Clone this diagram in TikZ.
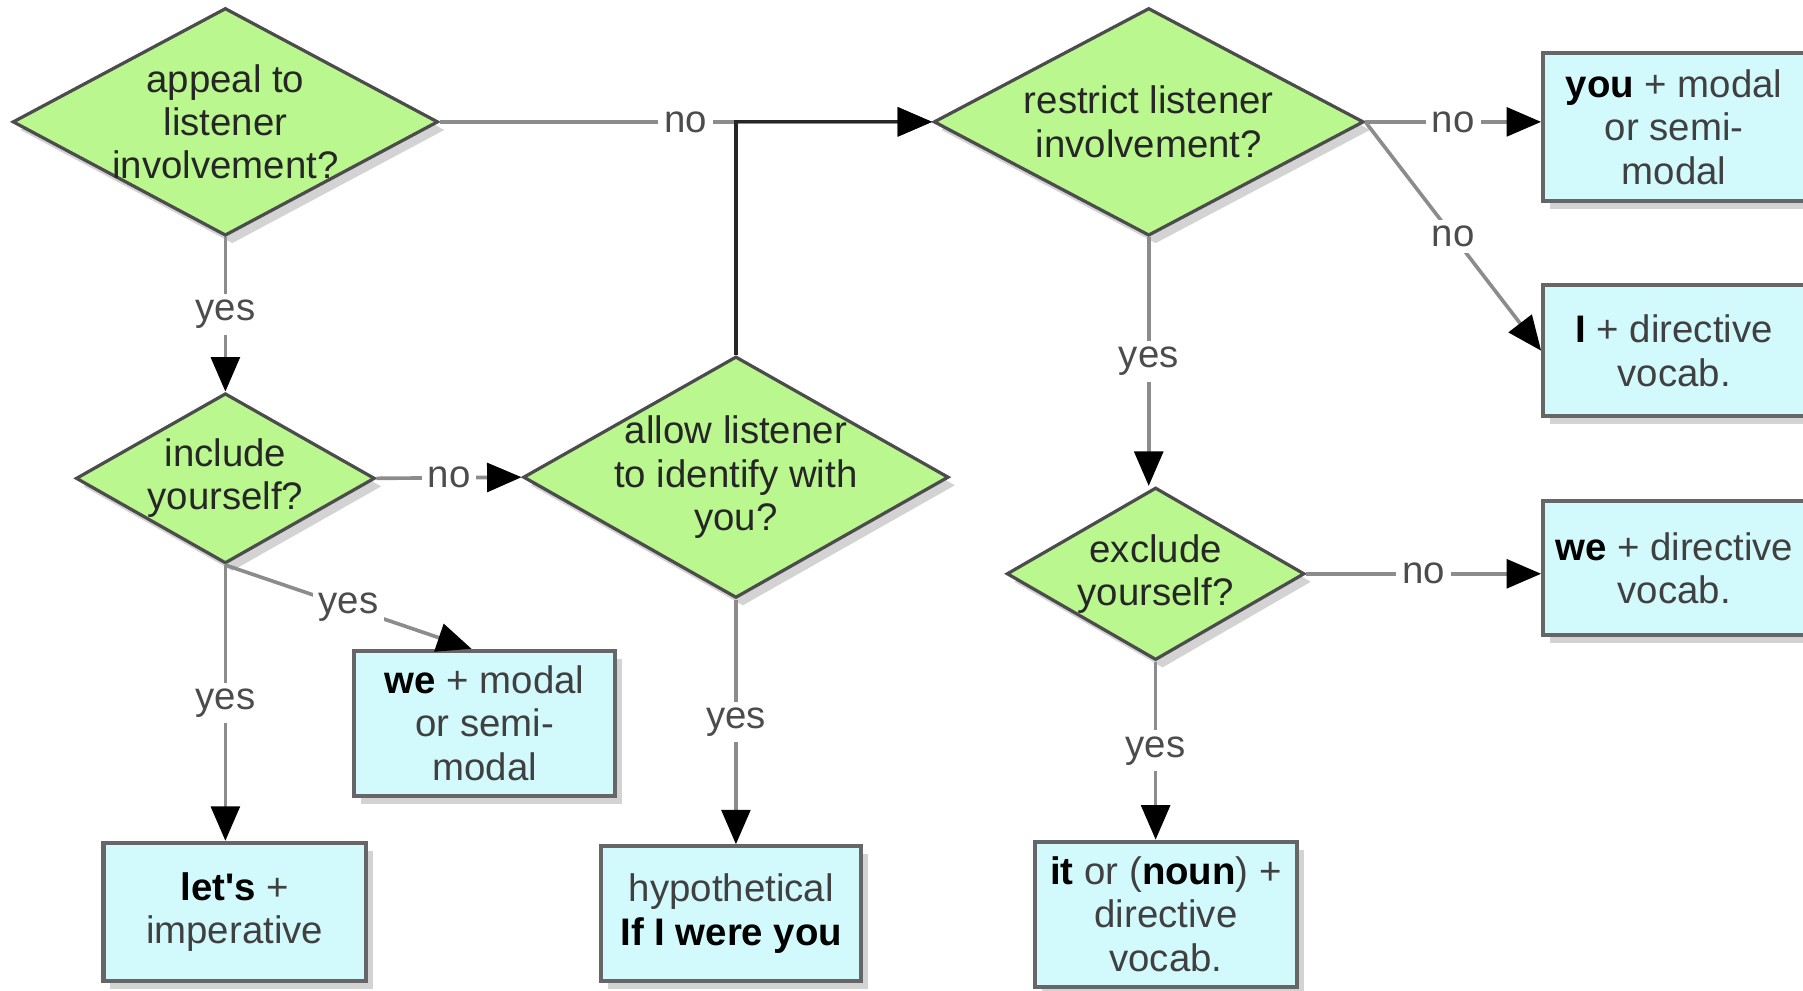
\documentclass[tikz,border=0pt]{standalone}
\usepackage{fontspec}
\setmainfont{Liberation Sans}[Ligatures=TeXOff]
\usetikzlibrary{shapes.geometric,arrows.meta,shadows,calc}
\definecolor{qgreen}{RGB}{187,247,143}
\definecolor{acyan}{RGB}{210,250,252}

\tikzset{
  softshadow/.style={drop shadow={shadow xshift=.6mm,shadow yshift=-.7mm,opacity=.35}},
  decision/.style={diamond, draw=black!70, line width=.8pt, fill=qgreen, inner sep=0pt, softshadow},
  qtext/.style={align=center, font=\fontsize{9.5}{10.7}\selectfont, text=black!85},
  answer/.style={rectangle, draw=black!60, line width=1pt, fill=acyan, inner sep=0pt,
    align=center, font=\fontsize{9.5}{10.7}\selectfont, text=black!75, softshadow},
  flow/.style={draw=black!45, line width=.9pt, -{Triangle[length=3mm,width=2.5mm,color=black]}},
  darkflow/.style={draw=black!85, line width=.8pt, -{Triangle[length=3mm,width=2.5mm,color=black]}},
  tag/.style={fill=white, inner sep=1.5pt, font=\fontsize{9.5}{10.7}\selectfont, text=black!70}
}

\begin{document}
\begin{tikzpicture}
  \clip (0,0) rectangle (15.68,-8.61);

  % questions
  \node[decision, minimum width=3.70cm, minimum height=1.98cm,
    label={[qtext]center:appeal to\\listener\\involvement?}] (appeal) at (1.96,-1.06) {};
  \node[decision, minimum width=2.60cm, minimum height=1.48cm,
    label={[qtext]center:include\\yourself?}] (include) at (1.96,-4.16) {};
  \node[decision, minimum width=3.70cm, minimum height=2.10cm,
    label={[qtext]center:allow listener\\to identify with\\you?}] (allow) at (6.40,-4.15) {};
  \node[decision, minimum width=3.74cm, minimum height=1.98cm,
    label={[qtext]center:restrict listener\\involvement?}] (restrict) at (9.99,-1.06) {};
  \node[decision, minimum width=2.59cm, minimum height=1.50cm,
    label={[qtext]center:exclude\\yourself?}] (exclude) at (10.05,-4.99) {};

  % answers
  \node[answer, minimum width=2.28cm, minimum height=1.29cm] (youmodal) at (14.56,-1.105)
    {\textbf{\color{black}you} + modal\\or semi-\\modal};
  \node[answer, minimum width=2.28cm, minimum height=1.14cm] (idir) at (14.56,-3.05)
    {\textbf{\color{black}I} + directive\\vocab.};
  \node[answer, minimum width=2.28cm, minimum height=1.16cm] (wedir) at (14.56,-4.94)
    {\textbf{\color{black}we} + directive\\vocab.};
  \node[answer, minimum width=2.27cm, minimum height=1.26cm] (wemodal) at (4.215,-6.29)
    {\textbf{\color{black}we} + modal\\or semi-\\modal};
  \node[answer, minimum width=2.28cm, minimum height=1.20cm] (lets) at (2.04,-7.93)
    {\textbf{\color{black}let's} +\\imperative};
  \node[answer, minimum width=2.26cm, minimum height=1.17cm] (hypo) at (6.36,-7.945)
    {hypothetical\\\textbf{\color{black}If I were you}};
  \node[answer, minimum width=2.28cm, minimum height=1.26cm] (itnoun) at (10.14,-7.95)
    {\textbf{\color{black}it} or (\textbf{\color{black}noun}) +\\directive\\vocab.};

  % connectors
  \draw[flow] (appeal.east) -- node[tag] {no} (restrict.west);
  \draw[darkflow] (allow.north) |- (restrict.west);
  \draw[flow] (appeal.south) -- node[tag] {yes} (include.north);
  \draw[flow] (include.east) -- node[tag] {no} (allow.west);
  \draw[flow] (include.south) -- node[tag] {yes} (wemodal.100);
  \draw[flow] (include.south) -- node[tag] {yes} (include.south |- lets.north);
  \draw[flow] (allow.south) -- node[tag] {yes} (allow.south |- hypo.north);
  \draw[flow] (restrict.east) -- node[tag] {no} (restrict.east -| youmodal.west);
  \draw[flow] (restrict.east) -- node[tag] {no} (idir.west);
  \draw[flow] (restrict.south) -- node[tag] {yes} (restrict.south |- exclude.north);
  \draw[flow] (exclude.east) -- node[tag] {no} (exclude.east -| wedir.west);
  \draw[flow] (exclude.south) -- node[tag] {yes} (exclude.south |- itnoun.north);
\end{tikzpicture}
\end{document}
